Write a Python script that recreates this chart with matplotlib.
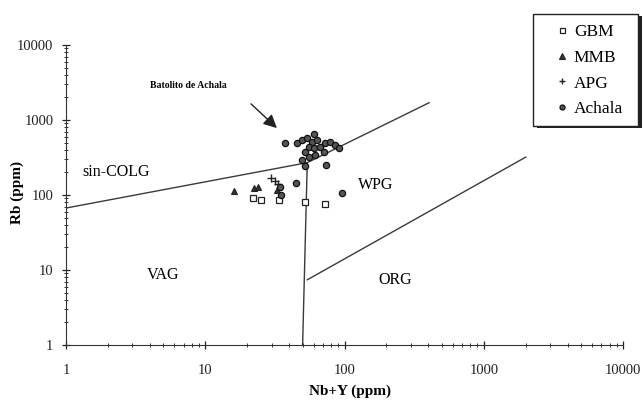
import matplotlib.pyplot as plt
from matplotlib.patches import Rectangle
import numpy as np

plt.rcParams['font.family'] = ['Liberation Serif', 'DejaVu Serif']

# Nb+Y and Rb (ppm) for each suite
gbm_nby = [22.0, 25.0, 33.8, 52.4, 72.8]
gbm_rb = [90, 86, 86, 81, 76]

mmb_nby = [16.1, 22.4, 24.0, 32.8]
mmb_rb = [114, 123, 129, 117]

apg_nby = [29.5, 31.6, 33.4]
apg_rb = [167, 154, 140]

achala_nby = [37.3, 45.6, 49.5, 53.8, 60.0, 58.5, 63.4, 55.3, 52.4, 60.0, 67.0,
              72.8, 79.0, 85.8, 90.6, 70.8, 61.7, 55.3, 49.5, 51.8, 73.5, 44.5,
              95.7, 34.2, 34.7]
achala_rb = [489, 489, 541, 570, 644, 514, 541, 441, 378, 419, 441,
             489, 514, 464, 419, 378, 341, 324, 293, 244, 251, 143,
             107, 129, 100]

# field boundaries (Pearce et al. 1984)
syncolg_x = [1, 54, 405]
syncolg_y = [67, 270, 1700]
vag_wpg_x = [50, 54]
vag_wpg_y = [1, 270]
wpg_org_x = [54, 2000]
wpg_org_y = [7.4, 320]

tick_vals = [1, 10, 100, 1000, 10000]
tick_labels = ['1', '10', '100', '1000', '10000']

fig = plt.figure(figsize=(6.44, 4.0), dpi=100)
ax = fig.add_axes([0.1025, 0.1375, 0.865, 0.75])
ax.set_xscale('log')
ax.set_yscale('log')
ax.set_xlim(1, 10000)
ax.set_ylim(1, 10000)

line_kw = dict(color='#3a3a3a', lw=1.0)
ax.plot(syncolg_x, syncolg_y, **line_kw)
ax.plot(vag_wpg_x, vag_wpg_y, **line_kw)
ax.plot(wpg_org_x, wpg_org_y, **line_kw)

h_gbm, = ax.plot(gbm_nby, gbm_rb, 's', ms=4.5, mfc='white', mec='#222',
                 mew=0.9, ls='none', label='GBM')
h_mmb, = ax.plot(mmb_nby, mmb_rb, '^', ms=5, mfc='#333', mec='#222',
                 mew=0.8, ls='none', label='MMB')
h_apg, = ax.plot(apg_nby, apg_rb, '+', ms=6, mec='#222', mew=1.0,
                 ls='none', label='APG')
h_ach, = ax.plot(achala_nby, achala_rb, 'o', ms=4.5, mfc='#555', mec='#111',
                 mew=0.9, ls='none', label='Achala')

# field names
ax.text(1.32, 203, 'sin-COLG', fontsize=11.5, va='center', ha='left')
ax.text(124, 136, 'WPG', fontsize=11.5, va='center', ha='left')
ax.text(3.8, 8.6, 'VAG', fontsize=11.5, va='center', ha='left')
ax.text(175, 7.4, 'ORG', fontsize=11.5, va='center', ha='left')

ax.text(4.0, 2900, 'Batolito de Achala', fontsize=7, fontweight='bold',
        va='center', ha='left')
ax.annotate('', xy=(33.8, 736), xytext=(20.6, 1740),
            arrowprops=dict(arrowstyle='-|>', color='#222', lw=1.0,
                            mutation_scale=20))

for side in ('top', 'right'):
    ax.spines[side].set_visible(False)
for side in ('left', 'bottom'):
    ax.spines[side].set_color('#333')

ax.set_xticks(tick_vals)
ax.set_xticklabels(tick_labels)
ax.set_yticks(tick_vals)
ax.set_yticklabels(tick_labels)
ax.tick_params(which='major', direction='inout', length=6, width=0.9,
               labelsize=10.5, colors='#222')
ax.tick_params(which='minor', direction='inout', length=3, width=0.7,
               colors='#333')
ax.tick_params(axis='x', pad=11)
ax.tick_params(axis='y', pad=6)

ax.set_xlabel('Nb+Y (ppm)', fontsize=11, fontweight='bold')
ax.set_ylabel('Rb (ppm)', fontsize=11, fontweight='bold')
ax.xaxis.set_label_coords(0.51, -0.132)
ax.yaxis.set_label_coords(-0.075, 0.51)

# legend box with a dark drop shadow
fig.patches.append(Rectangle((0.834, 0.679), 0.163, 0.28,
                             transform=fig.transFigure, facecolor='#222',
                             edgecolor='none', zorder=2))
fig.patches.append(Rectangle((0.828, 0.686), 0.163, 0.28,
                             transform=fig.transFigure, facecolor='white',
                             edgecolor='#222', lw=1.0, zorder=3))
leg = fig.legend(handles=[h_gbm, h_mmb, h_apg, h_ach],
                 loc='upper left', bbox_to_anchor=(0.864, 0.94),
                 bbox_transform=fig.transFigure, frameon=False, fontsize=12.5,
                 borderpad=0, handlelength=0.7, handletextpad=0.3,
                 labelspacing=0.55, borderaxespad=0, markerscale=0.8)
leg.set_zorder(4)

fig.savefig('out.png', dpi=100)
